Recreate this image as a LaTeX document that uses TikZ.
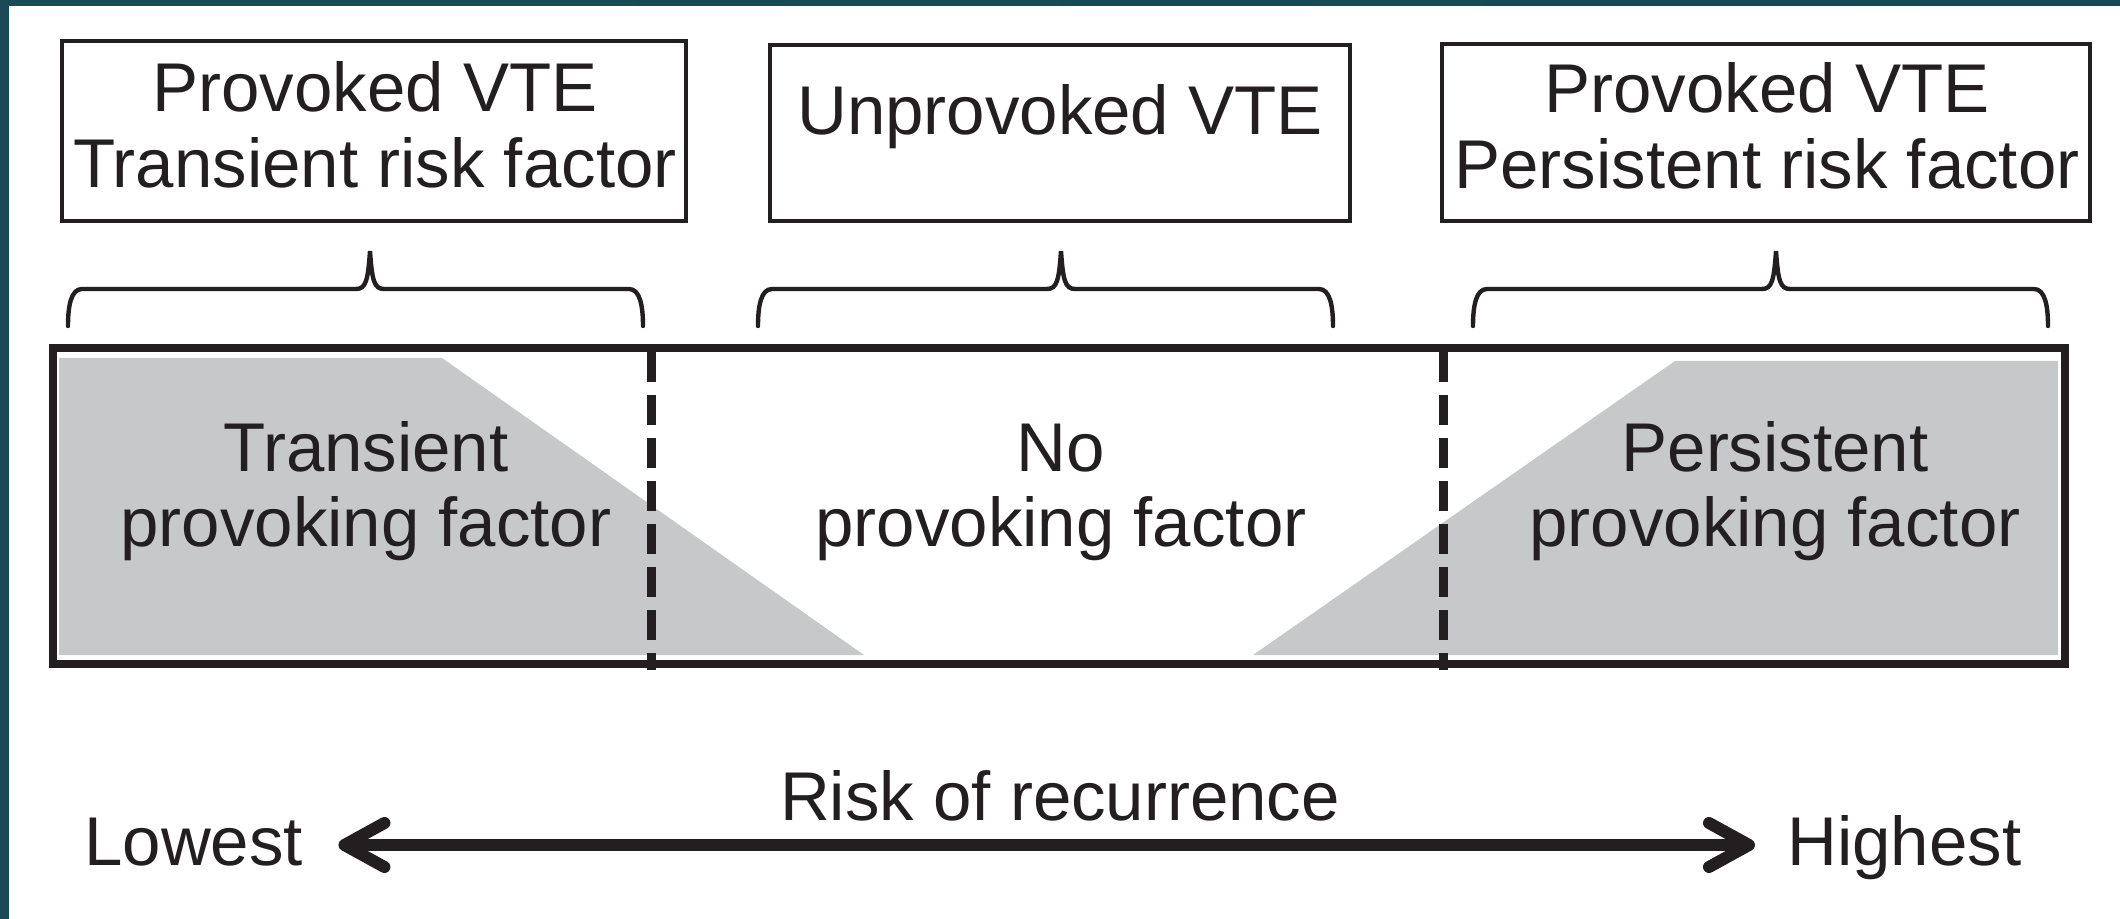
\documentclass[tikz,border=0pt]{standalone}
\usepackage{fontspec}
\setmainfont{Liberation Sans}
\usetikzlibrary{arrows.meta}

\definecolor{ink}{HTML}{231F20}
\definecolor{bandgray}{HTML}{C7C8CA}
\definecolor{tealdark}{HTML}{1B4A56}
\definecolor{tealmid}{HTML}{326E68}
\definecolor{tealend}{HTML}{1A4552}

% two centred lines whose baseline is that of the first line
\newcommand\twolines[2]{\begin{tabular}[t]{@{}c@{}}#1\\#2\end{tabular}}

% curly brace: left end x, tip x, right end x
\newcommand\curlybrace[3]{%
  \draw[bracestroke] (#1,326) .. controls (#1,306) and (#1+3,289) .. (#1+14,289)
    -- (#2-14,289) .. controls (#2-4,289) and (#2-2,280) .. (#2,251)
    .. controls (#2+2,280) and (#2+4,289) .. (#2+14,289)
    -- (#3-14,289) .. controls (#3-3,289) and (#3,306) .. (#3,326);}

\tikzset{
  topbox/.style={draw=ink, line width=2pt, rectangle, inner sep=0pt},
  band/.style={draw=ink, line width=3.75pt, rectangle, inner sep=0pt},
  bracestroke/.style={draw=ink, line width=2.2pt, line cap=round},
  divider/.style={draw=ink, line width=4.5pt, dash pattern=on 15pt off 6.5pt},
  headtext/.style={text=ink, inner sep=0pt, anchor=base,
    font=\fontsize{34.5}{38}\selectfont},
  bandtext/.style={text=ink, inner sep=0pt, anchor=base,
    font=\fontsize{34.5}{37.5}\selectfont},
  endtext/.style={text=ink, inner sep=0pt, anchor=base west,
    text height=25pt, text depth=0pt, font=\fontsize{34.5}{38}\selectfont},
  bigarrow/.style={draw=ink, line width=6pt,
    {Straight Barb[length=20pt,width=22pt,round]}-{Straight Barb[length=20pt,width=22pt,round]}}
}

\begin{document}
\begin{tikzpicture}[x=0.5pt, y=-0.5pt]
  \useasboundingbox (0,0) rectangle (2120,919);

  % page background with the framing strips
  \fill[white] (0,0) rectangle (2120,919);
  \shade[left color=tealdark, middle color=tealmid, right color=tealend] (0,0) rectangle (2120,5.5);
  \fill[tealdark] (0,0) rectangle (9,919);

  % category boxes
  \node[topbox, minimum width=312pt, minimum height=90pt] (b1) at (373.5,131) {};
  \node[topbox, minimum width=290pt, minimum height=88pt] (b2) at (1060,133) {};
  \node[topbox, minimum width=324pt, minimum height=88.5pt] (b3) at (1766,132.5) {};

  \node[headtext] (t1) at (375,112) {\twolines{Provoked VTE}{Transient risk factor}};
  \node[headtext] (t2) at (1060,135) {Unprovoked VTE};
  \node[headtext] (t3) at (1767,113) {\twolines{Provoked VTE}{Persistent risk factor}};

  % braces
  \curlybrace{68}{370}{643}
  \curlybrace{758}{1061}{1333}
  \curlybrace{1473}{1776}{2048}

  % grey wedges of the risk band
  \fill[bandgray] (59,358) -- (442,358) -- (864,655) -- (59,655) -- cycle;
  \fill[bandgray] (2058,361) -- (1675,361) -- (1253,655) -- (2058,655) -- cycle;

  % section dividers
  \draw[divider] (651,352) -- (651,670);
  \draw[divider] (1443,352) -- (1443,670);

  % the band frame
  \node[band, minimum width=1006pt, minimum height=158pt] (bandframe) at (1059,506) {};

  \node[bandtext] (s1) at (366,472) {\twolines{Transient}{provoking factor}};
  \node[bandtext] (s2) at (1061,472) {\twolines{No}{provoking factor}};
  \node[bandtext] (s3) at (1775,472) {\twolines{Persistent}{provoking factor}};

  % risk scale
  \node[headtext] (risk) at (1060,820) {Risk of recurrence};
  \node[endtext] (low) at (84,865) {Lowest};
  \node[endtext] (high) at (1787,865) {Highest};
  \draw[bigarrow] ([xshift=17.5pt,yshift=-2.5pt]low.east) -- ([xshift=-16pt,yshift=-2.5pt]high.west);
\end{tikzpicture}
\end{document}
